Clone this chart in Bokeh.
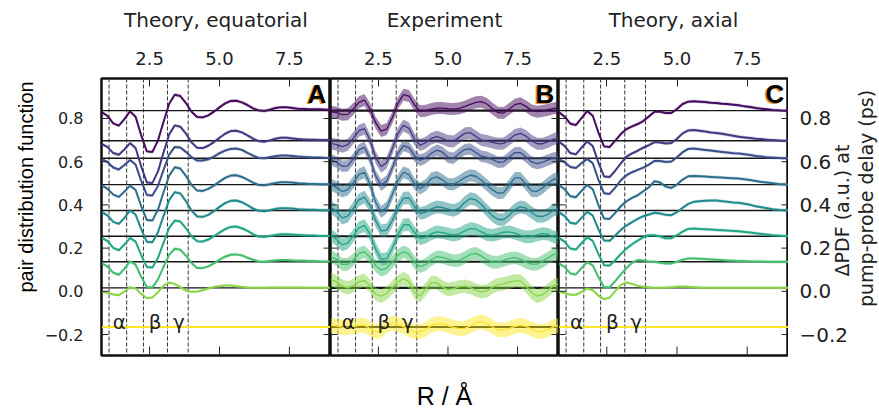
import math
from bokeh.plotting import figure
from bokeh.layouts import row
from bokeh.models import Range1d, FixedTicker, Span, Label, LinearAxis
from bokeh.core.properties import value
from bokeh.palettes import Viridis256
from bokeh.embed import file_html
from bokeh.resources import INLINE

# ---------------- data ----------------
r_grid = [0.8, 1.0, 1.2, 1.4, 1.6, 1.8, 2.0, 2.2, 2.4, 2.6, 2.8, 3.0, 3.2, 3.4,
          3.6, 3.8, 4.0, 4.2, 4.4, 4.6, 4.8, 5.0, 5.2, 5.4, 5.6, 5.8, 6.0, 6.2,
          6.4, 6.6, 6.8, 7.0, 7.2, 7.4, 7.6, 7.8, 8.0, 8.2, 8.4, 8.6, 8.8, 9.0]

# pump-probe delays (ps) = vertical offsets of the curves
delays = [0.836, 0.697, 0.616, 0.494, 0.374, 0.255, 0.137, 0.016, -0.165]

panel_titles = ["Theory, equatorial", "Experiment", "Theory, axial"]
panel_letters = ["A", "B", "C"]
x_ticks = [2.5, 5.0, 7.5]
x_tick_labels = ["2.5", "5.0", "7.5"]
y_ticks = [-0.2, 0.0, 0.2, 0.4, 0.6, 0.8]
y_tick_labels = ["\u22120.2", "0.0", "0.2", "0.4", "0.6", "0.8"]
region_edges = [1.05, 1.68, 2.28, 3.14, 3.88]
region_names = ["\u03b1", "\u03b2", "\u03b3"]
region_centers = [1.42, 2.70, 3.55]

# delta-PDF (a.u.), one row per delay, on r_grid
theory_eq = [
    [-5, -16, -38, -45, -25, -2, -18, -74, -122, -124, -89, -33, 21, 48, 44, 23, -3, -19, -20, -14, -3, 10, 22, 29, 30, 25, 17, 7, 1, -1, 3, 8, 10, 10, 8, 6, 5, 4, 4, 4, 3, 3],
    [-10, -19, -37, -42, -26, -7, -22, -77, -125, -127, -92, -35, 19, 46, 42, 21, -5, -21, -22, -15, -4, 9, 21, 29, 30, 25, 16, 6, -1, -3, 1, 6, 9, 9, 7, 5, 4, 3, 3, 2, 2, 2],
    [-3, -12, -28, -34, -20, -5, -19, -68, -110, -112, -83, -35, 11, 34, 32, 19, 3, -7, -7, -3, 5, 15, 23, 28, 29, 25, 16, 8, 1, 0, 3, 6, 8, 8, 7, 5, 4, 3, 2, 2, 1, 1],
    [-3, -13, -30, -37, -21, -3, -16, -65, -106, -108, -75, -23, 27, 52, 48, 26, -1, -18, -19, -13, -3, 9, 20, 27, 28, 23, 15, 6, -1, -2, 1, 5, 7, 7, 6, 4, 3, 2, 2, 1, 1, 1],
    [-5, -15, -34, -40, -22, 0, -12, -56, -94, -95, -65, -16, 31, 55, 51, 28, 0, -18, -19, -13, -2, 11, 22, 29, 30, 25, 16, 6, -1, -2, 1, 5, 7, 7, 6, 4, 3, 2, 2, 1, 1, 1],
    [-5, -15, -35, -42, -25, -5, -16, -57, -92, -94, -65, -19, 25, 47, 44, 24, 0, -15, -16, -10, 0, 11, 21, 28, 29, 24, 16, 6, -1, -2, 1, 4, 6, 6, 5, 4, 3, 2, 2, 1, 1, 1],
    [-5, -15, -33, -39, -21, 1, -9, -45, -76, -77, -53, -15, 21, 39, 36, 18, -4, -19, -19, -14, -5, 6, 15, 21, 22, 19, 12, 6, 1, 0, 2, 4, 5, 5, 4, 3, 3, 2, 2, 1, 1, 1],
    [-12, -15, -20, -22, -11, 2, -2, -18, -31, -29, -13, 7, 16, 12, 2, -8, -12, -11, -7, -2, 3, 5, 7, 7, 5, 3, 1, 0, 0, 0, 1, 1, 1, 1, 1, 1, 1, 0, 0, 0, 0, 0],
    [0, 0, 0, 0, 0, 0, 0, 0, 0, 0, 0, 0, 0, 0, 0, 0, 0, 0, 0, 0, 0, 0, 0, 0, 0, 0, 0, 0, 0, 0, 0, 0, 0, 0, 0, 0, 0, 0, 0, 0, 0, 0],
]

experiment = [
    [-3, -6, -12, -11, 5, 25, 32, 5, -36, -61, -55, -21, 22, 48, 44, 17, -2, 0, 5, 8, 8, 6, 5, 7, 12, 19, 25, 27, 20, 6, -6, -7, 5, 18, 22, 13, 1, -3, -1, 3, 7, 9],
    [-8, -12, -18, -12, 8, 30, 36, 2, -50, -78, -65, -24, 21, 46, 37, 4, -13, -6, 7, 12, 7, -1, -2, 10, 22, 24, 13, 2, -1, -5, -9, -8, 4, 17, 22, 14, 0, -9, -9, -3, 5, 8],
    [-4, -12, -24, -23, -2, 25, 33, -1, -53, -81, -68, -29, 14, 38, 32, 7, -6, 1, 15, 24, 18, 3, 0, 14, 26, 28, 17, 6, 3, -4, -12, -11, 3, 17, 17, 4, -11, -16, -12, -5, 1, 4],
    [0, -9, -21, -15, 6, 30, 37, 2, -53, -82, -69, -30, 13, 37, 30, 2, -12, -1, 18, 23, 14, 2, 1, 10, 21, 28, 25, 13, -2, -16, -26, -24, -2, 20, 20, 1, -19, -20, -10, 5, 16, 18],
    [10, -4, -23, -17, 7, 32, 40, 15, -30, -61, -59, -30, 9, 37, 38, 12, -9, -5, 5, 11, 9, 4, 0, 7, 24, 36, 32, 18, 0, -16, -27, -27, -14, 3, 11, 7, -6, -17, -18, -11, 2, 6],
    [3, -10, -26, -20, 1, 25, 32, 7, -38, -69, -67, -36, 5, 34, 35, 11, -7, -3, 7, 13, 11, 7, 3, 7, 16, 23, 21, 13, 5, 3, 7, 12, 13, 9, 3, -2, -1, 4, 8, 6, -2, -7],
    [15, 7, -8, -8, 6, 24, 30, 13, -12, -25, -19, -1, 19, 30, 23, -2, -15, -8, 6, 15, 13, 8, 3, 4, 12, 22, 25, 17, 6, -1, -1, 4, 10, 12, 8, -1, -7, -7, 1, 12, 22, 25],
    [25, 18, 5, 0, 7, 18, 22, 6, -19, -25, -16, 1, 18, 28, 18, -13, -24, -4, 16, 15, 2, -5, -2, 3, 5, 1, -7, -12, -9, 2, 10, 12, 17, 21, 21, 6, -14, -25, -20, -7, 7, 12],
    [5, 3, -1, -2, 1, 5, 5, -5, -14, -12, 4, 12, 8, 1, -8, -14, -14, -7, 4, 10, 9, 4, -1, -5, -4, 3, 12, 15, 10, 0, -9, -9, -5, 2, 5, 2, -6, -13, -14, -8, 1, 5],
]

theory_ax = [
    [-5, -18, -39, -43, -22, -1, -15, -65, -107, -109, -90, -70, -55, -47, -40, -31, -17, -3, -3, -7, -7, 5, 20, 27, 28, 27, 26, 24, 23, 21, 20, 18, 16, 13, 11, 8, 6, 4, 2, 1, 0, 0],
    [-3, -16, -37, -41, -21, -2, -16, -65, -107, -109, -90, -68, -48, -38, -30, -21, -13, -4, -5, -8, -7, 6, 22, 31, 32, 30, 28, 25, 23, 21, 18, 15, 12, 10, 8, 6, 5, 3, 2, 1, 0, 0],
    [-3, -12, -26, -29, -15, -2, -15, -64, -105, -107, -88, -66, -51, -42, -35, -28, -19, -8, -8, -11, -10, 3, 18, 28, 29, 27, 25, 23, 21, 19, 17, 15, 14, 12, 10, 7, 5, 3, 2, 1, 0, 0],
    [-2, -14, -35, -38, -19, -1, -14, -61, -102, -103, -85, -65, -50, -40, -32, -20, -8, 10, 6, -6, -10, 0, 15, 25, 26, 25, 24, 23, 22, 21, 20, 19, 18, 16, 14, 11, 8, 6, 4, 2, 1, 0],
    [-5, -17, -37, -40, -22, -4, -15, -56, -90, -91, -75, -58, -45, -35, -25, -17, -12, -7, -9, -13, -14, -5, 8, 20, 26, 28, 29, 30, 30, 28, 26, 24, 23, 20, 17, 13, 10, 7, 4, 2, 1, 0],
    [-5, -17, -37, -40, -21, -3, -14, -53, -87, -88, -72, -53, -37, -24, -13, -3, 3, 3, -1, -6, -6, 3, 14, 22, 23, 22, 21, 20, 19, 18, 17, 16, 15, 13, 11, 9, 7, 5, 3, 2, 1, 0],
    [-5, -16, -35, -38, -19, -1, -11, -46, -76, -77, -58, -38, -19, -3, 5, 4, 1, 0, -3, -5, -5, 0, 6, 10, 10, 9, 8, 7, 6, 5, 4, 3, 2, 2, 1, 1, 1, 0, 0, 0, 0, 0],
    [-12, -15, -21, -21, -12, -2, -7, -23, -34, -29, -10, 9, 16, 12, 6, 3, 2, 0, 0, 1, 2, 3, 4, 3, 2, 1, 0, 0, 0, 0, 0, 0, 0, 0, 0, 0, 0, 0, 0, 0, 0, 0],
    [0, 0, 0, 0, 0, 0, 0, 0, 0, 0, 0, 0, 0, 0, 0, 0, 0, 0, 0, 0, 0, 0, 0, 0, 0, 0, 0, 0, 0, 0, 0, 0, 0, 0, 0, 0, 0, 0, 0, 0, 0, 0],
]

# uncertainty half-widths (a.u.)
theory_err = [5, 5, 5, 5, 5, 5, 5, 4, 0]
exp_err = [18, 18, 17, 18, 19, 19, 19, 20, 22]

# ---------------- styling ----------------
AU = 1.0 / 648.0          # a.u. -> axis units
TXT = "#222222"
FONT = "DejaVu Sans"
X_RANGE = (0.78, 8.97)
Y_RANGE = (-0.297, 0.985)
TOP, BOTTOM, FRAME_H = 78, 54, 277

span_d = delays[0] - delays[-1]
colors = [Viridis256[int(round((0.03 + 0.97 * (delays[0] - d) / span_d) * 255))] for d in delays]


def strip(width):
    s = figure(x_range=Range1d(0, width), y_range=Range1d(*Y_RANGE),
               frame_width=width, frame_height=FRAME_H,
               min_border_left=0, min_border_right=0,
               min_border_top=TOP, min_border_bottom=BOTTOM,
               x_axis_location=None, y_axis_location=None,
               toolbar_location=None, output_backend="svg")
    s.grid.visible = False
    s.outline_line_color = None
    s.background_fill_color = "white"
    s.border_fill_color = "white"
    return s


def inner_ticks(p):
    # tick marks drawn inward from the frame edges (markers are clipped by the frame)
    p.scatter(x=x_ticks, y=[Y_RANGE[0]] * len(x_ticks), marker="dash", size=18,
              angle=math.pi / 2, line_color=TXT, line_width=1)
    p.scatter(x=[X_RANGE[0]] * len(y_ticks), y=y_ticks, marker="dash", size=14,
              line_color=TXT, line_width=1)
    p.scatter(x=[X_RANGE[1]] * len(y_ticks), y=y_ticks, marker="dash", size=14,
              line_color=TXT, line_width=1)


def make_panel(idx, curves, errs, band_alpha, line_w, base_w, frame_w, left_b):
    p = figure(x_range=Range1d(*X_RANGE), y_range=Range1d(*Y_RANGE),
               frame_width=frame_w, frame_height=FRAME_H,
               min_border_left=left_b, min_border_right=0,
               min_border_top=TOP, min_border_bottom=BOTTOM,
               x_axis_location="above", y_axis_location="left" if idx == 0 else None,
               toolbar_location=None, output_backend="svg")
    p.xgrid.visible = False
    p.ygrid.visible = False
    p.outline_line_color = "#111111"
    p.outline_line_width = 2.5
    p.background_fill_color = "white"
    p.border_fill_color = "white"

    ax = p.xaxis[0]
    ax.ticker = FixedTicker(ticks=x_ticks)
    ax.major_label_overrides = dict(zip(x_ticks, x_tick_labels))
    ax.major_label_text_font = FONT
    ax.major_label_text_font_size = "18px"
    ax.major_label_text_color = TXT
    ax.major_label_standoff = 14
    ax.major_tick_in = 8
    ax.major_tick_out = 0
    ax.minor_tick_in = 0
    ax.minor_tick_out = 0
    ax.major_tick_line_color = TXT
    ax.axis_line_color = None
    ax.axis_label = panel_titles[idx]
    ax.axis_label_text_font = FONT
    ax.axis_label_text_font_size = "20px"
    ax.axis_label_text_font_style = "normal"
    ax.axis_label_text_color = TXT
    ax.axis_label_standoff = 17

    if idx == 0:
        ly = p.yaxis[0]
        ly.ticker = FixedTicker(ticks=y_ticks)
        ly.major_label_overrides = dict(zip(y_ticks, y_tick_labels))
        ly.major_label_text_font = FONT
        ly.major_label_text_font_size = "16px"
        ly.major_label_text_color = TXT
        ly.major_label_standoff = 18
        ly.major_tick_in = 0
        ly.major_tick_out = 0
        ly.minor_tick_in = 0
        ly.minor_tick_out = 0
        ly.axis_line_color = None

    if idx == 1:
        bx = LinearAxis(ticker=FixedTicker(ticks=[]), axis_line_color=None,
                        major_tick_in=0, major_tick_out=0, minor_tick_in=0, minor_tick_out=0,
                        axis_label="R / \u00c5", axis_label_text_font="Liberation Sans",
                        axis_label_text_font_size="25px", axis_label_text_font_style="normal",
                        axis_label_text_color="black", axis_label_standoff=26)
        p.add_layout(bx, "below")

    # baselines and region markers
    for d in delays:
        p.add_layout(Span(location=d, dimension="width", line_color="#151515",
                          line_width=base_w, level="underlay"))
    for e in region_edges:
        p.add_layout(Span(location=e, dimension="height", line_color="#333333",
                          line_width=1, line_dash="4 2", level="underlay"))

    # curves
    for i, d in enumerate(delays):
        vals = curves[i]
        y = [d + v * AU for v in vals]
        if errs[i] > 0:
            lo = [d + (v - errs[i]) * AU for v in vals]
            hi = [d + (v + errs[i]) * AU for v in vals]
            p.varea(x=r_grid, y1=lo, y2=hi, fill_color=colors[i], fill_alpha=band_alpha)
        p.line(x=r_grid, y=y, line_color=colors[i], line_width=line_w)

    inner_ticks(p)

    for name, xc in zip(region_names, region_centers):
        p.add_layout(Label(x=xc, y=-0.144, text=name, text_align="center",
                           text_baseline="alphabetic", text_font=FONT,
                           text_font_size="20px", text_color=TXT))

    p.add_layout(Label(x=8.82, y=0.912, text=panel_letters[idx], text_align="right",
                       text_baseline="middle", text_font="Liberation Sans",
                       text_font_size="26px", text_font_style="bold",
                       text_color="#d98a2b", x_offset=-1.5, y_offset=-1))
    p.add_layout(Label(x=8.82, y=0.912, text=panel_letters[idx], text_align="right",
                       text_baseline="middle", text_font="Liberation Sans",
                       text_font_size="26px", text_font_style="bold",
                       text_color="black"))
    return p


# left strip: y-axis title (x in pixels of the strip)
pL = strip(40)
pL.add_layout(Label(x=25, y=0.483, text="pair distribution function", angle=math.pi / 2,
                    text_align="center", text_baseline="middle", text_font="Liberation Sans",
                    text_font_size="20px", text_color="black"))

pA = make_panel(0, theory_eq, theory_err, 0.25, 2.0, 1.3, 229, 61)
pB = make_panel(1, experiment, exp_err, 0.5, 1.3, 2.2, 228, 0)
pC = make_panel(2, theory_ax, theory_err, 0.25, 2.0, 1.3, 230, 0)

# right strip: delay tick labels and the two-line axis title (x in pixels of the strip)
pR = strip(91)
pR.text(x=11, y=y_ticks, text=y_tick_labels, text_align="left", text_baseline="middle",
        text_font=value(FONT), text_font_size=value("20px"), text_color=TXT)
pR.add_layout(Label(x=53, y=0.374, text="\u0394PDF (a.u.) at", angle=math.pi / 2,
                    text_align="center", text_baseline="middle", text_font=FONT,
                    text_font_size="19px", text_color=TXT))
pR.add_layout(Label(x=77, y=0.43, text="pump-probe delay (ps)", angle=math.pi / 2,
                    text_align="center", text_baseline="middle", text_font=FONT,
                    text_font_size="19px", text_color=TXT))

layout = row(pL, pA, pB, pC, pR, spacing=0)
open("out.html", "w").write(file_html(layout, INLINE))
